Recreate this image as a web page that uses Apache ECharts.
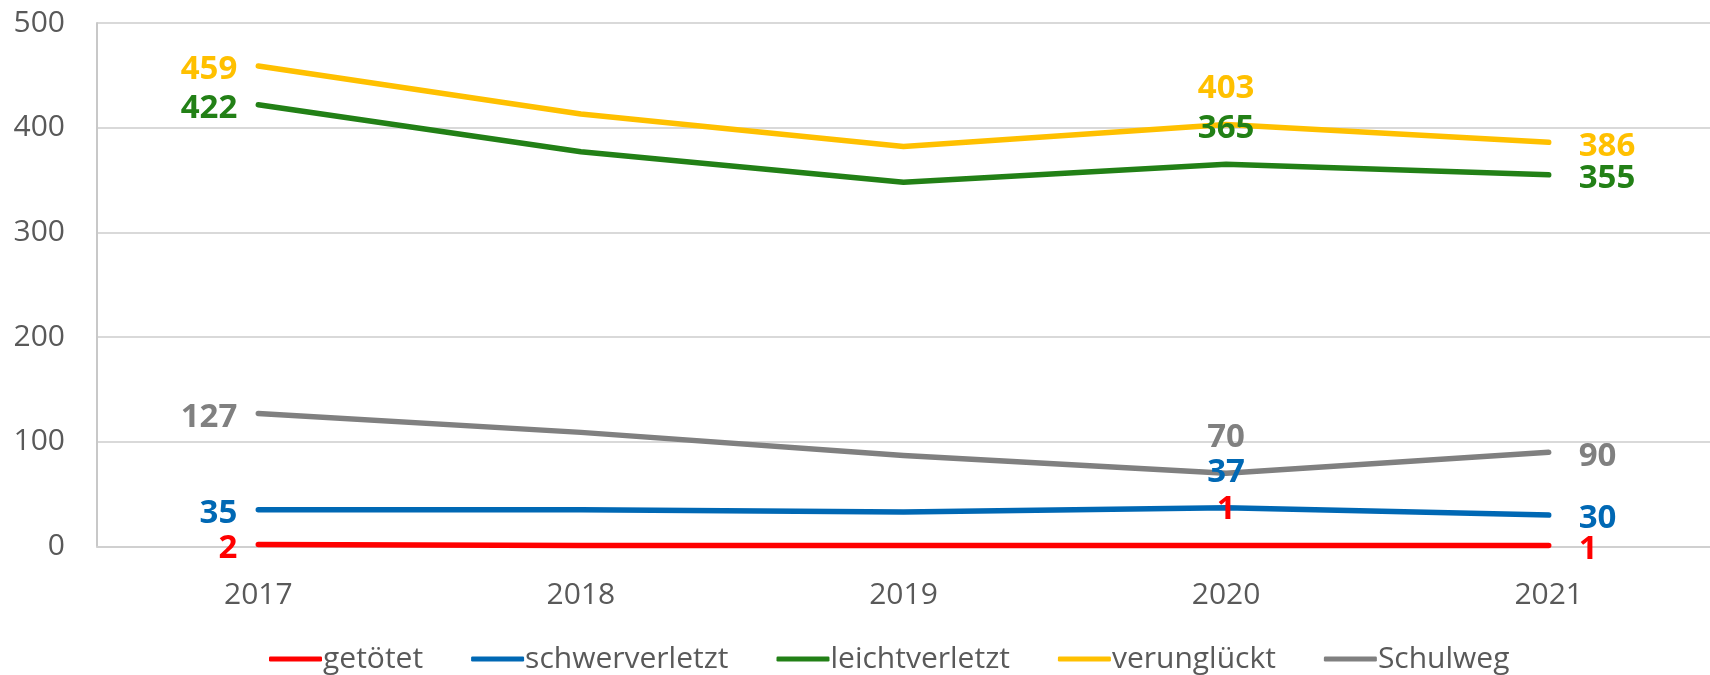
<!DOCTYPE html>
<html>
<head>
<meta charset="utf-8">
<script src="https://cdn.jsdelivr.net/npm/echarts@6/dist/echarts.min.js"></script>
<style>
  html, body { margin: 0; padding: 0; background: #fff; }
  #main-chart { width: 1710px; height: 675px; }
</style>
</head>
<body>
<div id="main-chart"></div>
<script>
const years = ['2017', '2018', '2019', '2020', '2021'];
const getoetet = [2, 1, 1, 1, 1];
const schwerverletzt = [35, 35, 33, 37, 30];
const leichtverletzt = [422, 377, 348, 365, 355];
const verunglueckt = [459, 413, 382, 403, 386];
const schulweg = [127, 109, 87, 70, 90];
const yTicks = [0, 100, 200, 300, 400, 500];

// which points carry a value label, and where
const labelPlaces = { 0: 'left', 3: 'top', 4: 'right' };

document.addEventListener('DOMContentLoaded', () => {
    const chartContainer = document.getElementById('main-chart');
    const myChart = echarts.init(chartContainer);
    const font = '"Open Sans", "Noto Sans", sans-serif';

    function makeSeries(name, values, color) {
        const data = values.map((v, i) => {
            const pos = labelPlaces[i];
            if (!pos) return { value: v, label: { show: false } };
            if (pos === 'top') return { value: v, label: { show: true, position: pos, distance: 19 } };
            return {
                value: v,
                label: { show: true, position: pos, distance: pos === 'right' ? 30 : 21, offset: [0, 4] }
            };
        });
        return {
            name: name,
            type: 'line',
            data: data,
            symbol: 'circle',
            symbolSize: 0.01,
            showAllSymbol: true,
            lineStyle: { color: color, width: 5.5, cap: 'round', join: 'round' },
            itemStyle: { color: color },
            label: {
                color: color,
                fontFamily: font,
                fontSize: 33,
                fontWeight: 'bold'
            },
            emphasis: { disabled: true }
        };
    }

    const option = {
        animation: false,
        grid: { left: 97, top: 23, bottom: 128.5, width: 1622.5 },
        legend: {
            top: 639,
            left: 264,
            icon: 'roundRect',
            itemWidth: 53,
            itemHeight: 5,
            itemGap: 48,
            textStyle: { color: '#595959', fontFamily: font, fontSize: 30, padding: [0, 0, 0, -4] },
            data: ['getötet', 'schwerverletzt', 'leichtverletzt', 'verunglückt', 'Schulweg']
        },
        xAxis: {
            type: 'category',
            data: years,
            boundaryGap: true,
            axisLine: { show: true, lineStyle: { color: '#d0d0d0', width: 2 } },
            axisTick: { show: false },
            axisLabel: { color: '#595959', fontFamily: font, fontSize: 30, margin: 34 }
        },
        yAxis: {
            type: 'value',
            min: yTicks[0],
            max: yTicks[yTicks.length - 1],
            interval: 100,
            axisLine: { show: true, lineStyle: { color: '#c8c8c8', width: 2 } },
            axisTick: { show: false },
            axisLabel: { color: '#595959', fontFamily: font, fontSize: 30, margin: 32 },
            splitLine: { lineStyle: { color: '#d9d9d9', width: 2 } }
        },
        series: [
            makeSeries('getötet', getoetet, '#ff0000'),
            makeSeries('schwerverletzt', schwerverletzt, '#0068b4'),
            makeSeries('leichtverletzt', leichtverletzt, '#228016'),
            makeSeries('verunglückt', verunglueckt, '#ffc000'),
            makeSeries('Schulweg', schulweg, '#808080')
        ]
    };
    myChart.setOption(option);
});
</script>
</body>
</html>
